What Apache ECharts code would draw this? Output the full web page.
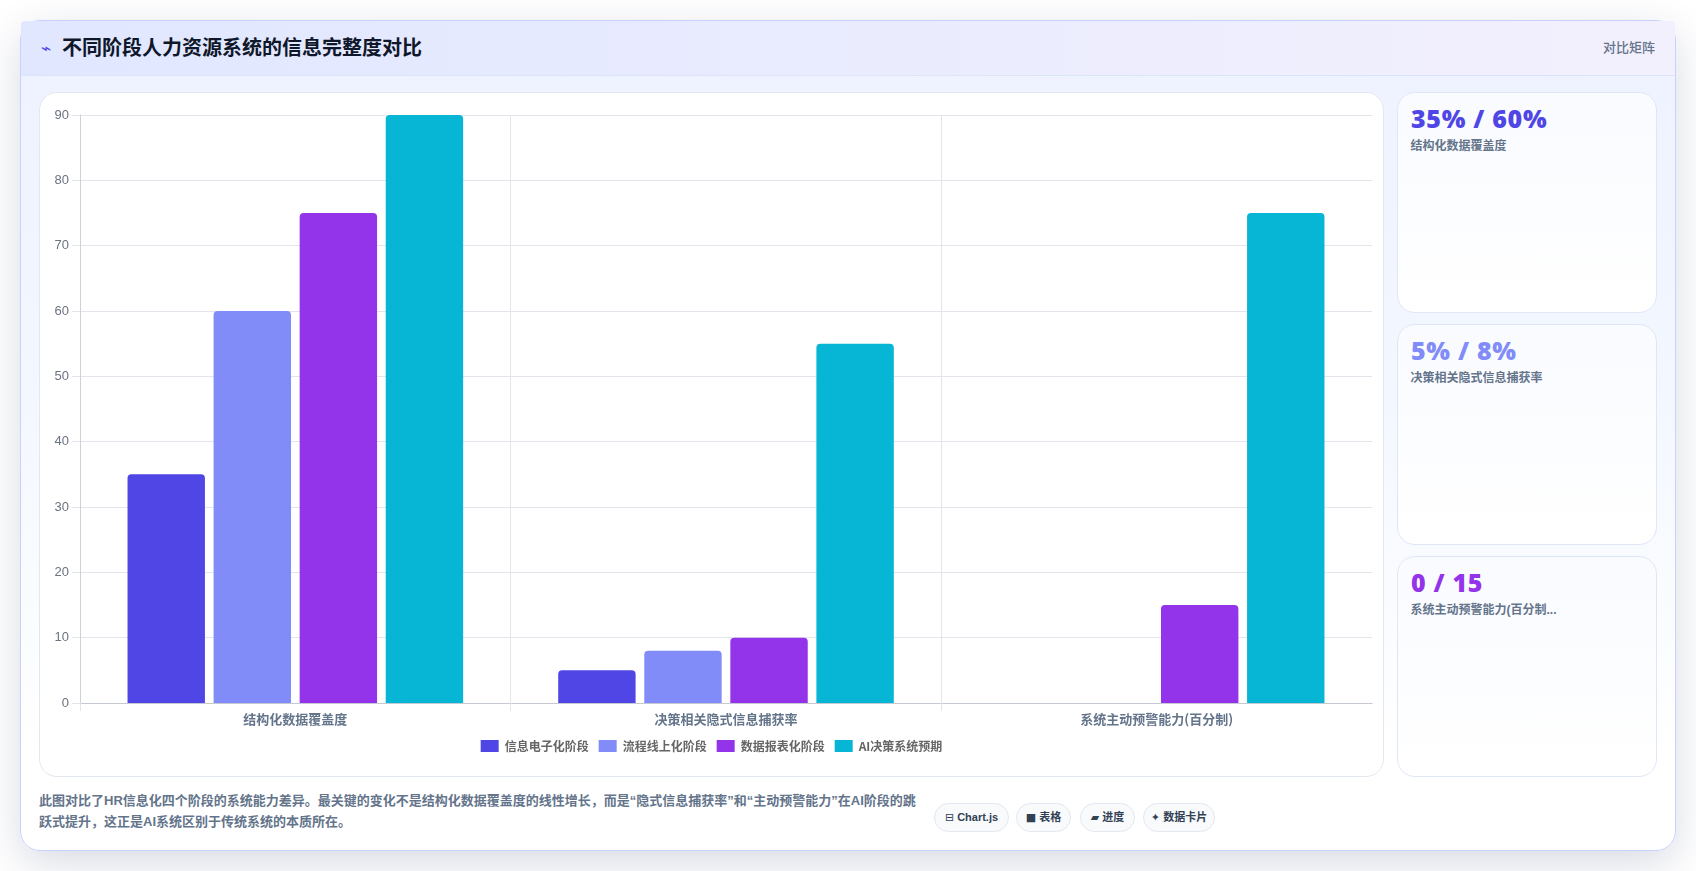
<!DOCTYPE html>
<html lang="zh-CN">
<head>
<meta charset="utf-8">
<title>不同阶段人力资源系统的信息完整度对比</title>
<script src="https://cdn.jsdelivr.net/npm/echarts@6/dist/echarts.min.js"></script>
<style>
  * { box-sizing: border-box; margin: 0; padding: 0; }
  html, body { width: 1696px; height: 871px; overflow: hidden; background: #fff;
    font-family: "Liberation Sans", "Noto Sans CJK SC", sans-serif; }
  .card { position: absolute; left: 20px; top: 20px; width: 1656px; height: 831px;
    border: 1px solid #c7d2fe; border-radius: 20px;
    background: linear-gradient(180deg, #eef2ff 0%, #f3f7ff 45%, #ffffff 88%);
    box-shadow: 0 12px 40px rgba(30, 41, 90, 0.17); }
  .head { position: absolute; left: 0; top: 0; right: 0; height: 55px;
    background: linear-gradient(90deg, #e0e7ff 0%, #f3f0fd 100%);
    border-bottom: 1px solid #dbe4f8; border-radius: 4px 4px 0 0; }
  .head .icon { position: absolute; left: 20px; top: 16px; font-size: 17px; color: #4f46e5; line-height: 24px; }
  .head h1 { position: absolute; left: 41px; top: 12px; font-size: 20px; line-height: 30px; font-weight: 700; color: #0f172a; }
  .head .tag { position: absolute; right: 20px; top: 17px; font-size: 13px; line-height: 20px; font-weight: 500; color: #64748b; }
  .panel { position: absolute; left: 18px; top: 71px; width: 1345px; height: 685px;
    background: #fff; border: 1px solid #e2e8f0; border-radius: 18px; }
  #chart { position: absolute; left: 0; top: 0; width: 100%; height: 100%; }
  .stat { position: absolute; left: 1376px; width: 260px; height: 221px;
    border: 1px solid #dfe7f7; border-radius: 18px;
    background: linear-gradient(180deg, #f9fbff 0%, #ffffff 100%); }
  .stat b { position: absolute; left: 13px; top: 8px; font-family: "Noto Sans", sans-serif;
    font-size: 25px; line-height: 34px; font-weight: 900; letter-spacing: 0.7px; white-space: pre; }
  .stat span { position: absolute; left: 12.5px; top: 44px; font-size: 12px; line-height: 18px; font-weight: 700; color: #64748b; }
  .note { position: absolute; left: 18px; top: 770px; width: 880px; font-size: 13px; line-height: 20.5px;
    font-weight: 700; color: #64748b; }
  .pill { position: absolute; top: 782px; height: 29px; border: 1px solid #e2e8f0; border-radius: 15px;
    background: #f8fafc; font-size: 11px; line-height: 27px; font-weight: 700; color: #334155; text-align: center; white-space: nowrap; }
  .pill i { font-family: "DejaVu Sans", sans-serif; font-style: normal; font-weight: 400; }
</style>
</head>
<body>
<div class="card">
  <div class="head">
    <div class="icon">⌁</div>
    <h1 id="title"></h1>
    <div class="tag" id="tag"></div>
  </div>
  <div class="panel"><div id="chart"></div></div>
  <div id="stats"></div>
  <p class="note" id="note"></p>
  <div id="pills"></div>
</div>
<script>
// Chart content
const titleText = '不同阶段人力资源系统的信息完整度对比';
const tagText = '对比矩阵';
const categories = ['结构化数据覆盖度', '决策相关隐式信息捕获率', '系统主动预警能力(百分制)'];
const stageNames = ['信息电子化阶段', '流程线上化阶段', '数据报表化阶段', 'AI决策系统预期'];
const stageColors = ['#4f46e5', '#818cf8', '#9333ea', '#06b6d4'];
const electronicStage = [35, 5, 0];
const onlineStage = [60, 8, 0];
const reportStage = [75, 10, 15];
const aiStage = [90, 55, 75];
const yTicks = { min: 0, max: 90, step: 10 };

// Side cards
const statValues = ['35% / 60%', '5% / 8%', '0 / 15'];
const statLabels = ['结构化数据覆盖度', '决策相关隐式信息捕获率', '系统主动预警能力(百分制...'];
const statColors = ['#4f46e5', '#818cf8', '#9333ea'];
const statTops = [71, 303, 535];

// Footer
const noteText = '此图对比了HR信息化四个阶段的系统能力差异。最关键的变化不是结构化数据覆盖度的线性增长，而是“隐式信息捕获率”和“主动预警能力”在AI阶段的跳跃式提升，这正是AI系统区别于传统系统的本质所在。';
const pillIcons = ['⊟', '■', '▰', '✦'];
const pillLabels = ['Chart.js', '表格', '进度', '数据卡片'];
const pillLefts = [913, 995, 1059, 1122];
const pillWidths = [75, 55, 55, 72];

document.getElementById('title').textContent = titleText;
document.getElementById('tag').textContent = tagText;
document.getElementById('note').textContent = noteText;

document.getElementById('stats').innerHTML = statValues.map((v, i) =>
  `<div class="stat" style="top:${statTops[i]}px"><b style="color:${statColors[i]}">${v}</b><span>${statLabels[i]}</span></div>`
).join('');
document.getElementById('pills').innerHTML = pillLabels.map((t, i) =>
  `<div class="pill" style="left:${pillLefts[i]}px;width:${pillWidths[i]}px"><i>${pillIcons[i]}</i> ${t}</div>`
).join('');

const stageValues = [electronicStage, onlineStage, reportStage, aiStage];
const chart = echarts.init(document.getElementById('chart'), null, { renderer: 'canvas' });
const gridBox = { left: 40, right: 11, top: 22, bottom: 73 };
chart.setOption({
  animation: false,
  color: stageColors,
  grid: gridBox,
  legend: {
    bottom: 19, left: 'center', itemWidth: 18, itemHeight: 12, itemGap: 10,
    icon: 'rect',
    textStyle: { fontSize: 12, fontWeight: 600, color: '#666', padding: [0, 0, 0, 1],
      fontFamily: '"Noto Sans CJK SC", sans-serif' },
    data: stageNames
  },
  xAxis: {
    type: 'category', data: categories,
    axisLine: { show: true, onZero: false, lineStyle: { color: '#c4c9d2', width: 1 } },
    axisTick: { show: true, length: 8, alignWithLabel: false, lineStyle: { color: '#e2e6ec' } },
    splitLine: { show: true, showMaxLine: false, lineStyle: { color: '#e2e6ec', width: 1 } },
    axisLabel: { fontSize: 13, fontWeight: 600, color: '#64748b', margin: 10,
      fontFamily: '"Noto Sans CJK SC", sans-serif' }
  },
  yAxis: {
    type: 'value', min: yTicks.min, max: yTicks.max, interval: yTicks.step,
    axisLine: { show: true, lineStyle: { color: '#cdd1d9', width: 1 } },
    axisTick: { show: true, length: 8, lineStyle: { color: '#e2e6ec' } },
    splitLine: { show: true, lineStyle: { color: '#e2e6ec', width: 1 } },
    axisLabel: { fontSize: 13, color: '#6b7280', margin: 11,
      fontFamily: '"Liberation Sans", Arial, sans-serif' }
  },
  series: stageNames.map((name, i) => ({
    name, type: 'bar', data: stageValues[i],
    barWidth: 77.4, barGap: '11.2%',
    itemStyle: { color: stageColors[i], borderRadius: [4, 4, 0, 0] }
  }))
});

// The axis has no closing tick at its right end, so blank that one out.
chart.setOption({
  graphic: [{
    type: 'rect', z: 100,
    shape: { x: chart.getWidth() - gridBox.right - 1, y: chart.getHeight() - gridBox.bottom + 1, width: 3, height: 9 },
    style: { fill: '#fff' }
  }]
});
</script>
</body>
</html>
